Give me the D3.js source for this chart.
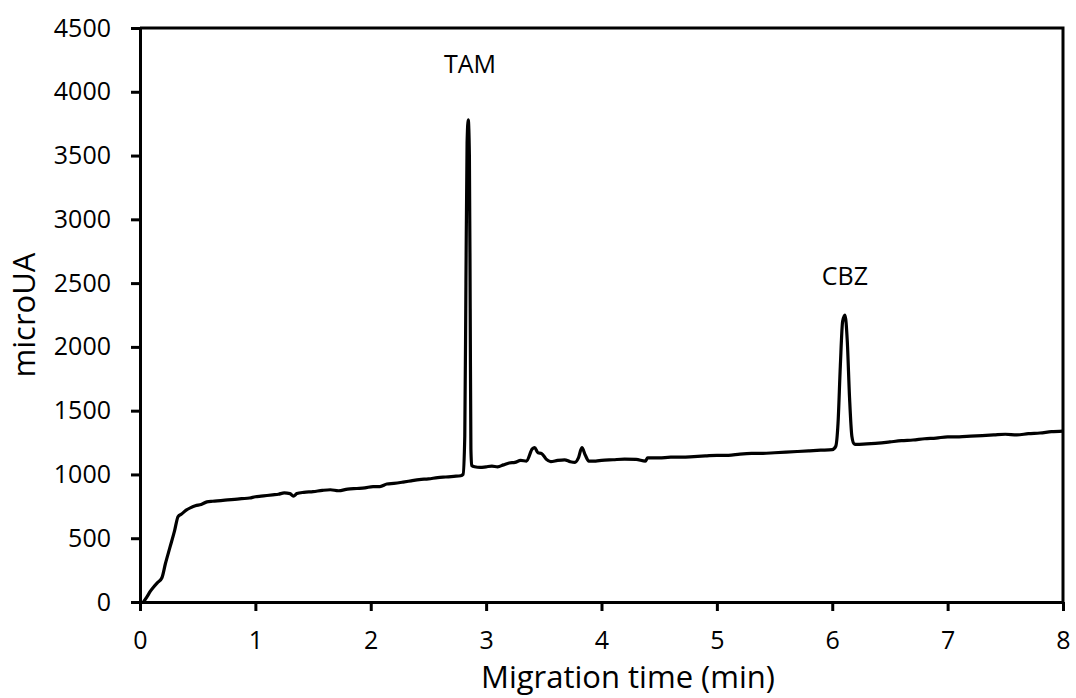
<!DOCTYPE html>
<html>
<head>
    <meta charset="utf-8">
    <script src="https://cdn.jsdelivr.net/npm/d3@7"></script>
    <style>
        body { margin: 0; background: #fff; }
        .chart text { font-family: "Open Sans", sans-serif; fill: #000; }
        .axis path, .axis line { stroke: #000; stroke-width: 3; }
        .trace { fill: none; stroke: #000; stroke-width: 3.2; stroke-linejoin: round; }
    </style>
</head>
<body>
<svg class="chart"></svg>
<script type="text/javascript">
    // migration time (min)
    var times = [0.03, 0.06, 0.09, 0.12, 0.15, 0.19, 0.22, 0.26, 0.30, 0.33, 0.36, 0.40, 0.44, 0.48, 0.53,
        0.58, 0.63, 0.70, 0.76, 0.82, 0.88, 0.95, 1.00, 1.05, 1.10, 1.15, 1.20, 1.25, 1.30, 1.33,
        1.36, 1.42, 1.50, 1.58, 1.65, 1.72, 1.80, 1.88, 1.95, 2.02, 2.08, 2.14, 2.20, 2.28, 2.35,
        2.42, 2.50, 2.58, 2.65, 2.72, 2.78, 2.80, 2.815, 2.825, 2.835, 2.845, 2.855, 2.862, 2.868, 2.875,
        2.90, 2.95, 3.00, 3.05, 3.10, 3.15, 3.20, 3.25, 3.30, 3.35, 3.40, 3.42, 3.45, 3.48, 3.52,
        3.56, 3.62, 3.68, 3.73, 3.77, 3.80, 3.83, 3.86, 3.89, 3.95, 4.00, 4.10, 4.20, 4.30, 4.38,
        4.40, 4.50, 4.60, 4.70, 4.80, 4.90, 5.00, 5.10, 5.20, 5.30, 5.40, 5.50, 5.60, 5.70, 5.80,
        5.90, 6.00, 6.03, 6.05, 6.07, 6.09, 6.11, 6.13, 6.15, 6.17, 6.19, 6.21, 6.30, 6.40, 6.50, 6.60,
        6.70, 6.80, 6.90, 7.00, 7.10, 7.20, 7.30, 7.40, 7.50, 7.60, 7.70, 7.80, 7.90, 8.00];
    // signal (microUA)
    var signal = [0, 40, 85, 120, 150, 190, 300, 430, 560, 670, 690, 720, 740, 755, 765,
        785, 790, 795, 800, 805, 810, 815, 825, 830, 835, 840, 845, 855, 850, 830,
        850, 860, 865, 875, 880, 872, 885, 890, 895, 905, 905, 925, 930, 940, 950,
        960, 965, 975, 980, 985, 990, 1000, 1300, 2500, 3600, 3780, 3500, 2300, 1200, 1070,
        1060, 1055, 1060, 1065, 1060, 1075, 1090, 1095, 1110, 1105, 1200, 1210, 1170, 1165, 1120,
        1100, 1110, 1115, 1100, 1095, 1130, 1210, 1150, 1105, 1105, 1110, 1115, 1120, 1118, 1105,
        1130, 1130, 1135, 1135, 1140, 1145, 1150, 1150, 1160, 1165, 1165, 1170, 1175, 1180, 1185,
        1190, 1195, 1220, 1400, 1850, 2200, 2250, 2050, 1600, 1300, 1240, 1235, 1240, 1245, 1255, 1265,
        1270, 1280, 1285, 1295, 1295, 1300, 1305, 1310, 1315, 1310, 1320, 1325, 1335, 1340];

    var xTicks = [0, 1, 2, 3, 4, 5, 6, 7, 8];
    var yTicks = [0, 500, 1000, 1500, 2000, 2500, 3000, 3500, 4000, 4500];
    var peakNames = ["TAM", "CBZ"];
    var peakTimes = [2.86, 6.11];
    var peakHeights = [4150, 2485];

    var width = 1076;
    var height = 698;
    var plotLeft = 140, plotRight = 1063, plotTop = 28, plotBottom = 602;

    var scaleX = d3.scaleLinear().domain([0, 8]).range([plotLeft, plotRight]);
    var scaleY = d3.scaleLinear().domain([0, 4500]).range([plotBottom, plotTop]);

    var chart = d3.select(".chart")
        .attr("width", width)
        .attr("height", height);

    // plot frame (top and right)
    chart.append("path")
        .attr("d", "M" + plotLeft + "," + plotTop + "H" + plotRight + "V" + plotBottom)
        .attr("fill", "none")
        .attr("stroke", "#000")
        .attr("stroke-width", 3);

    var line = d3.line()
        .x(function (d, i) { return scaleX(times[i]); })
        .y(function (d) { return scaleY(d); })
        .curve(d3.curveMonotoneX);

    chart.append("path")
        .attr("class", "trace")
        .attr("d", line(signal));

    // X-Axis
    var axisX = d3.axisBottom(scaleX)
        .tickValues(xTicks)
        .tickSize(9)
        .tickSizeOuter(0)
        .tickPadding(20)
        .tickFormat(d3.format("d"));

    var gx = chart.append("g")
        .attr("class", "axis")
        .attr("transform", "translate(0," + plotBottom + ")")
        .call(axisX);
    gx.selectAll("text").style("font-size", "25px");

    // Y-Axis
    var axisY = d3.axisLeft(scaleY)
        .tickValues(yTicks)
        .tickSize(9)
        .tickSizeOuter(0)
        .tickPadding(20)
        .tickFormat(d3.format("d"));

    var gy = chart.append("g")
        .attr("class", "axis")
        .attr("transform", "translate(" + plotLeft + ",0)")
        .call(axisY);
    gy.selectAll("text").style("font-size", "25px");

    // peak labels
    chart.selectAll(".peak")
        .data(peakNames)
        .enter()
        .append("text")
        .attr("class", "peak")
        .attr("x", function (d, i) { return scaleX(peakTimes[i]); })
        .attr("y", function (d, i) { return scaleY(peakHeights[i]); })
        .attr("text-anchor", "middle")
        .style("font-size", "25px")
        .text(function (d) { return d; });

    // axis titles
    chart.append("text")
        .attr("x", 628)
        .attr("y", 688)
        .attr("text-anchor", "middle")
        .style("font-size", "31px")
        .text("Migration time (min)");

    chart.append("text")
        .attr("transform", "translate(35," + ((plotTop + plotBottom) / 2) + ") rotate(-90)")
        .attr("text-anchor", "middle")
        .style("font-size", "31px")
        .text("microUA");
</script>
</body>
</html>
